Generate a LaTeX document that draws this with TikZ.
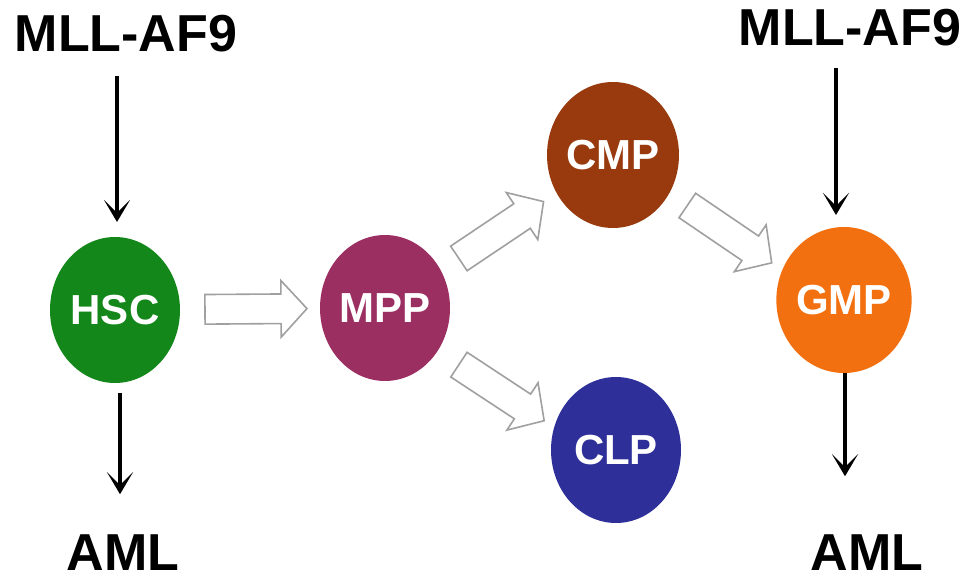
\documentclass[tikz,border=0pt]{standalone}
\usepackage{fontspec}
\setmainfont{Liberation Sans}
\usetikzlibrary{arrows.meta,shapes.geometric,shapes.arrows}

\definecolor{hscgreen}{HTML}{13871A}
\definecolor{mppmagenta}{HTML}{9C2F62}
\definecolor{cmpbrown}{HTML}{983A0E}
\definecolor{clpblue}{HTML}{2E2F98}
\definecolor{gmporange}{HTML}{F2700F}
\definecolor{outlinegray}{HTML}{A0A0A0}

\tikzset{
  cell/.style={ellipse, minimum width=130pt, minimum height=146pt,
    inner sep=0pt, outer sep=0pt, text=white,
    font=\bfseries\fontsize{42}{42}\selectfont},
  title/.style={inner sep=0pt, outer sep=0pt, anchor=base,
    font=\bfseries\fontsize{52}{60}\selectfont},
  pathway/.style={line width=4.5pt, black,
    -{Stealth[length=22pt,width=26pt,inset=13pt]}},
  blockarrow/.style={single arrow, draw=outlinegray, line width=1.6pt,
    fill=white, minimum height=102pt, inner xsep=0pt, inner ysep=14pt,
    single arrow head extend=13.5pt, single arrow tip angle=95,
    outer sep=0pt, sloped}
}

\begin{document}
\begin{tikzpicture}[x=1pt,y=-1pt]
\useasboundingbox[fill=white] (0,0) rectangle (967,577);

% cell populations
\node[cell, fill=hscgreen]   (hsc) at (115,310) {HSC};
\node[cell, fill=mppmagenta] (mpp) at (385,308) {MPP};
\node[cell, fill=cmpbrown]   (cmp) at (613,155) {CMP};
\node[cell, fill=clpblue]    (clp) at (616,450) {CLP};
\node[cell, fill=gmporange]  (gmp) at (844,300) {GMP};

% labels
\node[title] (mll1) at (126,52)  {MLL-AF9};
\node[title] (mll2) at (850,46)  {MLL-AF9};
\node[title] (aml1) at (123,570) {AML};
\node[title] (aml2) at (867,570) {AML};

% differentiation steps
\path (hsc.center) -- node[blockarrow, pos=0.497] {} (mpp.center);
\path (mpp.center) -- node[blockarrow, pos=0.485] {} (cmp.center);
\path ([yshift=-8pt]mpp.center) -- node[blockarrow, pos=0.48] {} ([yshift=-18pt]clp.center);
\path (cmp.center) -- node[blockarrow, pos=0.48] {} ([yshift=-12pt]gmp.center);

% transformation and leukaemia arrows
\draw[pathway, shorten <=23pt, shorten >=15pt]
  ([xshift=2pt]hsc.north |- mll1.south) -- ([xshift=2pt]hsc.north);
\draw[pathway, shorten <=10pt, shorten >=40pt]
  ([xshift=5pt]hsc.south) -- ([xshift=5pt]hsc.south |- aml1.north);
\draw[pathway, shorten <=21pt, shorten >=12pt]
  ([xshift=-8pt]gmp.north |- mll2.south) -- ([xshift=-8pt]gmp.north);
\draw[pathway, shorten <=0pt, shorten >=58pt]
  ([xshift=1pt]gmp.south) -- ([xshift=1pt]gmp.south |- aml2.north);
\end{tikzpicture}
\end{document}
